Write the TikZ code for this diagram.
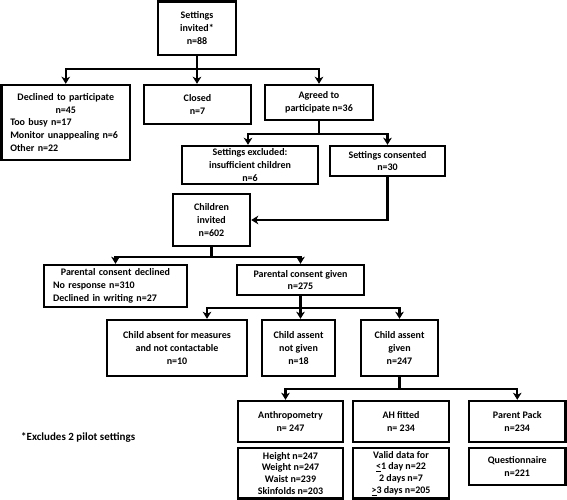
\documentclass[tikz,border=0pt]{standalone}
\usepackage{fontspec}
\setmainfont{Carlito}
\usetikzlibrary{arrows.meta,calc}
\newcommand\placebox[7][]{%
  \node[box,#1,minimum width={#5-#3},minimum height={#6-#4}] (#2) at ({(#3+#5)/2},{(#4+#6)/2}) {#7};}
\begin{document}
\begin{tikzpicture}[x=1pt,y=-1pt,
  box/.style={draw,line width=2.4pt,align=center,inner sep=0pt,
    font=\bfseries\fontsize{10}{12.8}\selectfont},
  tight/.style={font=\bfseries\fontsize{10}{11.8}\selectfont},
  arr/.style={line width=2.4pt,-{Stealth[length=7pt,width=8.5pt,inset=2pt]}}]
\useasboundingbox (0,0) rectangle (567,500);
\fill[white] (0,0) rectangle (567,500);
\placebox{settings}{158}{1.5}{236}{55}{Settings\\ invited*\\ n=88}
\placebox[text width=111pt,align=left]{declined}{1.5}{85}{130}{160}{{\centering Declined to participate\\ n=45\par}Too busy n=17\\ Monitor unappealing n=6\\ Other n=22}
\placebox{closed}{144}{85}{251}{124}{Closed\\ n=7}
\placebox{agreed}{265}{85}{373}{120}{Agreed to\\ participate n=36}
\placebox{excluded}{182}{146}{318}{184}{Settings excluded:\\ insufficient children\\ n=6}
\placebox{consented}{330}{146}{445}{176}{Settings consented\\ n=30}
\placebox{children}{173}{194}{250}{246}{Children\\ invited\\ n=602}
\placebox[text width=125pt,align=left]{pdecl}{44}{265}{187}{307}{{\centering Parental consent declined\par}No response n=310\\ Declined in writing n=27}
\placebox{pgiven}{237}{265}{364}{295}{Parental consent given\\ n=275}
\placebox{absent}{107}{320}{247}{376}{Child absent for measures\\ and not contactable\\ n=10}
\placebox{notgiven}{262}{320}{335}{376}{Child assent\\ not given\\ n=18}
\placebox{agiven}{361}{320}{438}{376}{Child assent\\ given\\ n=247}
\placebox{anthro}{238}{401}{343}{442}{Anthropometry\\ n= 247}
\placebox{ah}{353}{401}{449}{442}{AH fitted\\ n= 234}
\placebox{pack}{469}{401}{565.5}{442}{Parent Pack\\ n=234}
\placebox[tight]{height}{238}{448}{343}{498.5}{Height n=247\\ Weight n=247\\ Waist n=239\\ Skinfolds n=203}
\placebox[tight]{valid}{353}{448}{449}{498.5}{Valid data for\\ \underline{<}1 day n=22\\ 2 days n=7\\ \underline{>}3 days n=205}
\placebox{quest}{469}{448}{565.5}{485}{Questionnaire\\ n=221}
\node[anchor=west,inner sep=0pt,font=\bfseries\fontsize{11}{13}\selectfont] (note) at (21,437) {*Excludes 2 pilot settings};
\draw[arr] (settings.south) -- ++(0,13) -| (declined.north);
\draw[arr] (settings.south) -- (settings.south |- closed.north);
\draw[arr] (settings.south) -- ++(0,13) -| (agreed.north);
\draw[arr] (agreed.south) -- ++(0,13) -| ([xshift=-2pt]excluded.north);
\draw[arr] (agreed.south) -- ++(0,13) -| (consented.north);
\draw[arr] (consented.south) |- (children.east);
\draw[arr] (children.south) -- ++(0,10) -| (pdecl.north);
\draw[arr] (children.south) -- ++(0,10) -| (pgiven.north);
\draw[arr] (pgiven.south) -- ++(0,12) -| ([xshift=30pt]absent.north);
\draw[arr] (pgiven.south) -- (pgiven.south |- notgiven.north);
\draw[arr] (pgiven.south) -- ++(0,12) -| (agiven.north);
\draw[arr] (agiven.south) -- ++(0,12) -| ([xshift=-5pt]anthro.north);
\draw[arr] (agiven.south) -- ++(0,12) -| (pack.north);
\end{tikzpicture}
\end{document}
